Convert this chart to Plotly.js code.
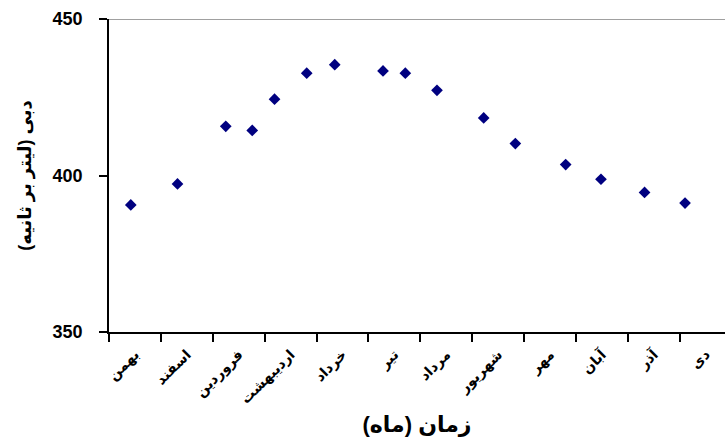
<!DOCTYPE html>
<html>
<head>
<meta charset="utf-8">
<script src="https://cdn.plot.ly/plotly-3.0.1.min.js"></script>
<style>
html,body{margin:0;padding:0;background:#fff;overflow:hidden;}
#chart{width:725px;height:448px;}
</style>
</head>
<body>
<div id="chart"></div>
<script>
// Month categories (tick labels), left to right
const months = ["بهمن","اسفند","فروردین","اردیبهشت","خرداد","تیر","مرداد","شهریور","مهر","آبان","آذر","دی"];
const monthIndex = [0,1,2,3,4,5,6,7,8,9,10,11];
// Position of each measurement along the month axis (month index units)
const sampleTime = [-0.08,0.82,1.75,2.26,2.69,3.31,3.85,4.78,5.21,5.82,6.72,7.33,8.30,8.98,9.82,10.60];
// Discharge (litres per second)
const discharge = [390.6,397.3,415.7,414.4,424.4,432.7,435.4,433.4,432.7,427.2,418.4,410.2,403.5,398.8,394.6,391.2];
const yTicks = [350,400,450];

const FONT = "Liberation Sans, Arial, DejaVu Sans, sans-serif";

const trace = {
  type: "scatter",
  mode: "markers",
  x: sampleTime,
  y: discharge,
  marker: {symbol: "diamond", size: 9, color: "#000080"},
  showlegend: false,
  hoverinfo: "x+y"
};

const layout = {
  width: 725,
  height: 448,
  margin: {l: 109, r: 0, t: 19, b: 116},
  paper_bgcolor: "#ffffff",
  plot_bgcolor: "#ffffff",
  showlegend: false,
  font: {family: FONT, color: "#000"},
  xaxis: {
    range: [-0.5, 11.37],
    tickmode: "array",
    tickvals: monthIndex,
    ticktext: months,
    ticks: "",
    tickangle: -45,
    ticklabelstandoff: 7,
    tickfont: {family: FONT, size: 14, weight: "bold", color: "#000"},
    showgrid: false,
    zeroline: false,
    showline: true,
    linecolor: "#000",
    linewidth: 1.5,
    minor: {tick0: -0.5, dtick: 1, ticks: "outside", ticklen: 8, tickcolor: "#000", tickwidth: 1.5, showgrid: false},
    title: {text: "زمان (ماه)", font: {family: FONT, size: 22, weight: "bold", color: "#000"}, standoff: 10},
    automargin: false,
    fixedrange: true
  },
  yaxis: {
    range: [350, 450],
    tickmode: "array",
    tickvals: yTicks,
    ticktext: yTicks.map(String),
    ticks: "outside",
    ticklen: 8,
    tickwidth: 1.5,
    tickcolor: "#000",
    ticklabelstandoff: 13,
    tickfont: {family: FONT, size: 18, weight: "bold", color: "#000"},
    showgrid: false,
    zeroline: false,
    showline: true,
    linecolor: "#000",
    linewidth: 1.5,
    title: {text: "دبی (لیتر بر ثانیه)", font: {family: FONT, size: 18, weight: "bold", color: "#000"}, standoff: 16},
    automargin: false,
    fixedrange: true
  },
  shapes: [{
    type: "line", xref: "paper", yref: "y", x0: 0, x1: 1, y0: 450, y1: 450,
    line: {color: "#808080", width: 1.5}, layer: "below"
  }]
};

Plotly.newPlot("chart", [trace], layout, {displayModeBar: false, staticPlot: false});
</script>
</body>
</html>
